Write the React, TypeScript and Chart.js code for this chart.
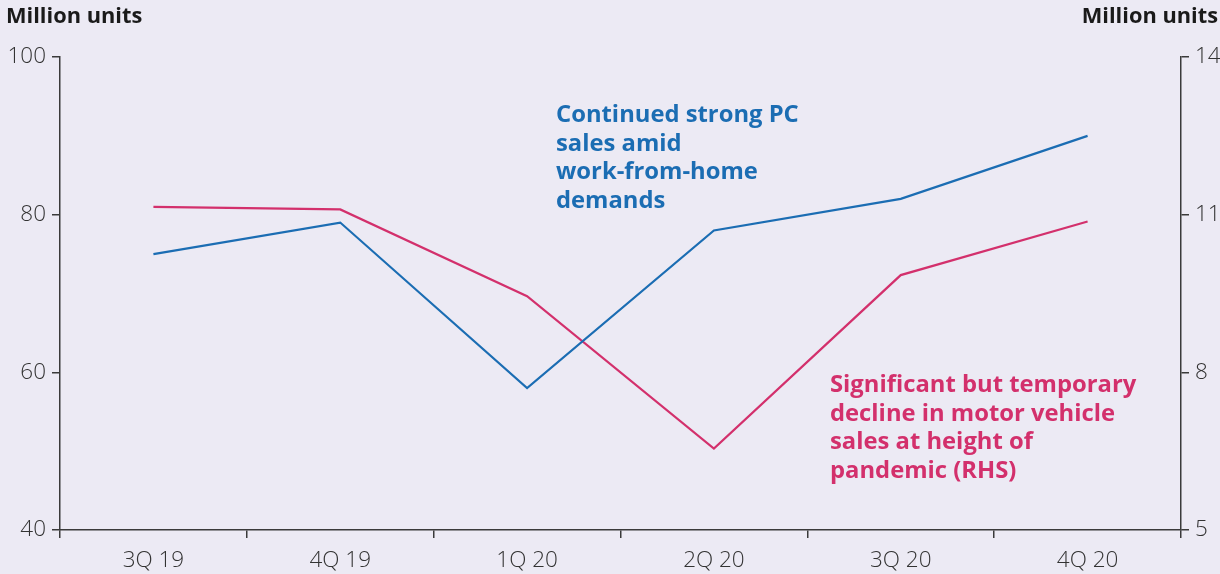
import React, { useEffect, useRef } from "react";
import { Chart, registerables } from "chart.js";

Chart.register(...registerables);

const categories = ["3Q 19", "4Q 19", "1Q 20", "2Q 20", "3Q 20", "4Q 20"];
const pcSales = [75, 79, 58, 78, 82, 90];
const motorVehicleSales = [11.15, 11.1, 9.45, 6.55, 9.85, 10.87];
const leftTicks = [40, 60, 80, 100];
const rightTicks = [5, 8, 11, 14];

const BG = "#eceaf4";
const BLUE = "#1b6db3";
const PINK = "#d3306c";
const AXIS = "#3a3a3a";
const FONT = "'Open Sans', 'Noto Sans', sans-serif";

export default function App() {
  const ref = useRef<HTMLCanvasElement | null>(null);

  useEffect(() => {
    document.body.style.margin = "0";
    document.body.style.background = BG;
    const canvas = ref.current;
    if (!canvas) return;
    const chart = new Chart(canvas, {
      type: "line",
      data: {
        labels: categories,
        datasets: [
          {
            label: "PC sales",
            data: pcSales,
            borderColor: BLUE,
            borderWidth: 2.2,
            pointRadius: 0,
            tension: 0,
            yAxisID: "y",
          },
          {
            label: "Motor vehicle sales (RHS)",
            data: motorVehicleSales,
            borderColor: PINK,
            borderWidth: 2.2,
            pointRadius: 0,
            tension: 0,
            yAxisID: "y1",
          },
        ],
      },
      options: {
        responsive: false,
        animation: false,
        layout: { padding: { top: 57, left: 0, right: 0, bottom: 0 } },
        plugins: {
          legend: { display: false },
          tooltip: { enabled: false },
        },
        scales: {
          x: {
            type: "category",
            offset: true,
            border: { display: true, color: AXIS, width: 1.5 },
            grid: {
              offset: true,
              drawOnChartArea: false,
              drawTicks: true,
              tickLength: 8,
              color: AXIS,
              lineWidth: 1.5,
            },
            ticks: {
              color: "#333",
              padding: 9,
              font: { family: FONT, size: 22.5, weight: 300 },
              maxRotation: 0,
            },
            afterFit: (s: any) => {
              s.height = 44;
            },
          },
          y: {
            type: "linear",
            position: "left",
            min: 40,
            max: 100,
            afterBuildTicks: (s: any) => {
              s.ticks = leftTicks.map((v) => ({ value: v }));
            },
            border: { display: true, color: AXIS, width: 1.5 },
            grid: {
              drawOnChartArea: false,
              drawTicks: true,
              tickLength: 8,
              color: AXIS,
              lineWidth: 1.5,
            },
            ticks: {
              color: "#333",
              padding: 6,
              font: { family: FONT, size: 22.5, weight: 300 },
            },
            afterFit: (s: any) => {
              s.width = 60;
            },
          },
          y1: {
            type: "linear",
            position: "right",
            min: 5,
            max: 14,
            afterBuildTicks: (s: any) => {
              s.ticks = rightTicks.map((v) => ({ value: v }));
            },
            border: { display: true, color: AXIS, width: 1.5 },
            grid: {
              drawOnChartArea: false,
              drawTicks: true,
              tickLength: 8,
              color: AXIS,
              lineWidth: 1.5,
            },
            ticks: {
              color: "#333",
              padding: 6,
              font: { family: FONT, size: 22.5, weight: 300 },
            },
            afterFit: (s: any) => {
              s.width = 39;
            },
          },
        },
      },
    });
    return () => chart.destroy();
  }, []);

  const titleStyle: React.CSSProperties = {
    position: "absolute",
    top: 1,
    fontFamily: FONT,
    fontWeight: 700,
    fontSize: 21.8,
    color: "#1a1a1a",
    lineHeight: "28px",
    whiteSpace: "nowrap",
  };
  const noteStyle: React.CSSProperties = {
    position: "absolute",
    fontFamily: FONT,
    fontWeight: 700,
    fontSize: 23.8,
    lineHeight: "28.7px",
    whiteSpace: "nowrap",
  };

  return (
    <div style={{ position: "relative", width: 1220, height: 574, background: BG, overflow: "hidden" }}>
      <canvas ref={ref} width={1220} height={574} style={{ display: "block" }} />
      <div style={{ ...titleStyle, left: 6 }}>Million units</div>
      <div style={{ ...titleStyle, right: 2 }}>Million units</div>
      <div style={{ ...noteStyle, left: 556, top: 99, color: BLUE }}>
        Continued strong PC
        <br />
        sales amid
        <br />
        work-from-home
        <br />
        demands
      </div>
      <div style={{ ...noteStyle, left: 830, top: 369, color: PINK }}>
        Significant but temporary
        <br />
        decline in motor vehicle
        <br />
        sales at height of
        <br />
        pandemic (RHS)
      </div>
    </div>
  );
}
